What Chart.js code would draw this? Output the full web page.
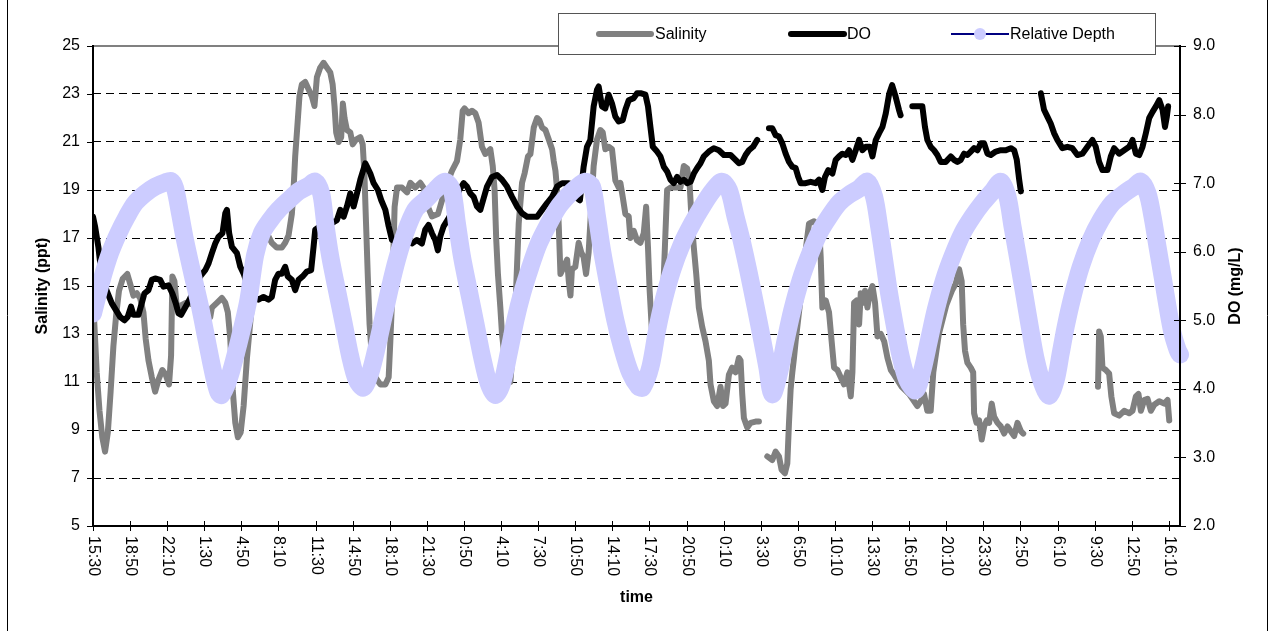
<!DOCTYPE html>
<html>
<head>
<meta charset="utf-8">
<title>Salinity, DO and relative depth</title>
<script src="https://cdn.jsdelivr.net/npm/chart.js@4.4.1/dist/chart.umd.min.js"></script>
<style>
  html, body { margin: 0; padding: 0; background: #fff; }
  #wrap { position: relative; width: 1273px; height: 631px; }
</style>
</head>
<body>
<div id="wrap"><canvas id="chart" width="1273" height="631"></canvas></div>
<script>
// Time axis: minutes elapsed since the 15:30 start, one label every 200 minutes.
const tickStepMinutes = 200;
const lastMinute = 5860;
const timeLabels = ['15:30','18:50','22:10','1:30','4:50','8:10','11:30','14:50','18:10','21:30',
  '0:50','4:10','7:30','10:50','14:10','17:30','20:50','0:10','3:30','6:50',
  '10:10','13:30','16:50','20:10','23:30','2:50','6:10','9:30','12:50','16:10'];

const salinityTicks = [5, 7, 9, 11, 13, 15, 17, 19, 21, 23, 25];
const doTicks = [2, 3, 4, 5, 6, 7, 8, 9];

// [minute, salinity ppt]; null marks a break in the record
const salinity = [
  [0,14.5],[10,13.0],[20,11.4],[35,9.8],[50,8.7],[65,8.1],[80,8.9],[95,10.6],[110,12.5],[125,13.8],
  [140,14.8],[160,15.3],[185,15.5],[200,15.1],[218,14.6],[236,14.7],[254,14.5],[272,13.9],[284,12.8],
  [299,11.9],[317,11.2],[335,10.6],[353,11.1],[374,11.5],[392,11.3],[410,10.9],[421,12.1],[428,15.4],
  [439,15.2],[452,14.1],[500,14.3],[560,14.2],[632,13.7],[641,14.1],[668,14.3],[695,14.5],[713,14.3],
  [727,13.9],[740,12.8],[753,10.7],[767,9.3],[781,8.7],[796,8.9],[812,10.0],[830,12.0],[848,13.5],
  [875,15.5],[901,17.5],[919,17.7],[937,17.2],[964,16.8],[991,16.6],[1018,16.6],[1036,16.8],[1054,17.1],
  [1072,18.0],[1081,19.0],[1090,20.4],[1103,21.8],[1113,22.9],[1126,23.4],[1144,23.5],[1162,23.2],
  [1180,22.9],[1194,22.5],[1207,23.7],[1225,24.1],[1243,24.3],[1261,24.1],[1279,23.9],[1292,23.4],
  [1302,22.5],[1311,21.4],[1324,21.0],[1338,21.2],[1347,22.6],[1356,22.0],[1369,21.5],[1387,21.4],
  [1400,20.9],[1418,21.1],[1441,21.2],[1454,20.9],[1463,19.7],[1472,17.6],[1481,15.5],[1491,13.4],
  [1504,12.0],[1522,11.2],[1549,10.9],[1576,10.9],[1594,11.2],[1603,12.7],[1612,14.4],[1626,18.3],
  [1639,19.1],[1666,19.1],[1693,18.9],[1711,19.3],[1737,19.1],[1764,19.3],[1782,19.1],[1800,18.4],
  [1827,17.9],[1860,18.0],[1890,18.8],[1915,19.4],[1935,19.8],[1962,20.2],[1980,21.1],[1993,22.3],
  [2003,22.4],[2025,22.2],[2043,22.3],[2061,22.2],[2079,21.8],[2097,20.8],[2115,20.5],[2142,20.7],
  [2155,20.0],[2165,19.0],[2174,16.9],[2183,15.5],[2196,14.1],[2205,13.0],[2225,11.6],[2250,11.0],
  [2265,12.5],[2277,14.1],[2295,17.6],[2313,19.3],[2327,19.7],[2345,20.4],[2358,20.5],[2376,21.6],
  [2394,22.0],[2407,21.9],[2421,21.6],[2439,21.5],[2457,21.1],[2475,20.7],[2484,20.2],[2493,19.8],
  [2502,19.0],[2511,17.5],[2520,15.5],[2538,15.8],[2556,16.1],[2565,15.2],[2574,14.6],[2582,15.7],
  [2600,15.8],[2618,16.8],[2632,16.4],[2645,16.2],[2658,15.5],[2672,16.4],[2686,18.3],[2699,20.0],
  [2717,21.1],[2735,21.5],[2748,21.4],[2762,20.7],[2780,20.8],[2798,20.7],[2816,19.4],[2834,19.1],
  [2843,19.3],[2856,18.7],[2870,18.0],[2888,17.9],[2897,17.0],[2915,17.3],[2933,16.9],[2951,16.8],
  [2969,17.2],[2982,18.3],[2992,16.6],[3001,14.8],[3014,13.0],[3030,12.2],[3050,12.5],[3070,14.0],
  [3085,17.0],[3095,19.0],[3113,19.1],[3140,19.1],[3167,19.1],[3185,20.0],[3203,19.9],[3216,19.3],
  [3226,17.9],[3239,16.6],[3252,15.5],[3266,14.1],[3284,13.3],[3302,12.7],[3320,11.9],[3329,10.9],
  [3347,10.2],[3365,10.0],[3383,10.8],[3396,10.0],[3410,10.1],[3428,11.3],[3446,11.6],[3464,11.4],
  [3482,12.0],[3491,11.9],[3500,10.5],[3509,9.5],[3527,9.1],[3545,9.3],[3572,9.35],[3590,9.35],
  [3612,null],
  [3635,7.9],[3662,7.75],[3680,8.1],[3698,7.9],[3712,7.35],[3730,7.2],[3743,7.6],[3752,9.3],
  [3761,10.7],[3770,11.4],[3779,12.0],[3788,12.7],[3815,14.5],[3842,16.5],[3860,17.6],[3887,17.7],
  [3914,17.5],[3923,16.2],[3932,14.1],[3950,14.4],[3968,13.9],[3982,12.7],[3995,11.6],[4013,11.5],
  [4031,11.2],[4049,10.9],[4067,11.4],[4085,10.4],[4094,11.4],[4103,14.3],[4117,14.4],[4130,13.4],
  [4139,14.7],[4152,14.3],[4162,14.8],[4175,14.1],[4188,14.7],[4202,15.0],[4216,14.3],[4229,12.9],
  [4247,13.0],[4265,12.7],[4283,12.0],[4301,11.5],[4319,11.3],[4360,10.8],[4400,10.5],[4444,10.0],
  [4462,10.2],[4480,10.5],[4498,9.8],[4516,9.8],[4530,11.4],[4560,13.0],[4600,14.2],[4630,14.8],
  [4651,15.1],[4669,15.7],[4683,15.2],[4691,13.4],[4701,12.3],[4714,11.8],[4732,11.6],[4745,11.4],
  [4750,9.7],[4763,9.3],[4777,9.4],[4791,8.6],[4804,9.15],[4818,9.4],[4831,9.3],[4845,10.1],
  [4858,9.55],[4876,9.3],[4894,9.15],[4912,8.85],[4930,9.15],[4948,8.95],[4966,8.75],[4984,9.3],
  [5002,8.95],[5015,8.85],
  [5200,null],
  [5418,10.8],[5424,13.1],[5433,12.9],[5442,11.6],[5460,11.5],[5478,11.35],[5490,10.4],[5505,9.7],
  [5532,9.6],[5559,9.8],[5586,9.7],[5604,9.8],[5622,10.4],[5636,10.5],[5649,9.8],[5667,10.25],
  [5685,10.3],[5703,9.8],[5721,10.05],[5748,10.2],[5775,10.1],[5793,10.25],[5802,9.4]
];

// [minute, dissolved oxygen mg/L]; null marks a break in the record
const dissolvedOxygen = [
  [0,6.51],[11,6.37],[29,6.07],[43,5.73],[65,5.49],[101,5.25],[128,5.13],[146,5.05],[169,5.0],
  [187,5.05],[205,5.2],[218,5.08],[245,5.08],[263,5.25],[277,5.39],[299,5.44],[317,5.59],[335,5.61],
  [362,5.59],[380,5.49],[407,5.51],[428,5.39],[446,5.25],[461,5.1],[475,5.08],[520,5.3],[578,5.64],
  [605,5.73],[623,5.83],[641,5.98],[659,6.12],[677,6.22],[698,6.27],[713,6.56],[722,6.61],[734,6.27],
  [749,6.07],[776,5.98],[794,5.78],[812,5.68],[840,5.45],[865,5.34],[892,5.3],[919,5.34],[946,5.3],
  [964,5.34],[982,5.59],[1000,5.68],[1018,5.68],[1036,5.78],[1050,5.64],[1072,5.59],[1090,5.44],
  [1108,5.59],[1130,5.64],[1153,5.71],[1176,5.73],[1189,6.07],[1198,6.32],[1240,6.4],[1290,6.42],
  [1315,6.46],[1333,6.61],[1351,6.51],[1369,6.66],[1387,6.85],[1405,6.66],[1423,6.85],[1441,7.05],
  [1468,7.29],[1477,7.24],[1495,7.14],[1513,7.0],[1536,6.9],[1554,6.75],[1576,6.61],[1594,6.37],
  [1612,6.17],[1660,6.12],[1700,6.15],[1719,6.12],[1746,6.17],[1773,6.12],[1791,6.32],[1809,6.39],
  [1827,6.27],[1845,6.17],[1859,6.02],[1872,6.22],[1890,6.37],[1920,6.5],[1950,6.7],[1975,6.9],
  [1998,7.0],[2016,6.95],[2034,6.85],[2052,6.8],[2070,6.66],[2088,6.61],[2106,6.78],[2124,6.95],
  [2151,7.09],[2178,7.12],[2205,7.05],[2232,6.95],[2259,6.8],[2286,6.66],[2313,6.56],[2340,6.51],
  [2367,6.51],[2394,6.51],[2421,6.61],[2448,6.71],[2475,6.8],[2502,6.95],[2529,7.0],[2565,7.0],
  [2582,6.98],[2600,6.8],[2625,6.75],[2645,7.24],[2663,7.53],[2681,7.63],[2699,8.12],[2717,8.36],
  [2726,8.41],[2744,8.12],[2762,8.09],[2780,8.29],[2798,8.16],[2816,7.97],[2834,7.9],[2856,7.92],
  [2870,8.07],[2888,8.21],[2915,8.24],[2933,8.31],[2956,8.31],[2978,8.29],[2992,8.12],[3005,7.82],
  [3018,7.53],[3041,7.46],[3059,7.39],[3077,7.24],[3095,7.17],[3113,7.05],[3131,7.0],[3149,7.09],
  [3167,7.02],[3185,7.05],[3203,7.0],[3221,7.02],[3239,7.14],[3257,7.22],[3275,7.29],[3293,7.39],
  [3320,7.46],[3347,7.51],[3374,7.48],[3401,7.41],[3437,7.41],[3464,7.34],[3482,7.29],[3500,7.31],
  [3518,7.41],[3536,7.48],[3558,7.53],[3581,7.63],
  [3612,null],
  [3644,7.8],[3662,7.8],[3680,7.7],[3698,7.68],[3716,7.58],[3734,7.43],[3752,7.31],[3770,7.24],
  [3788,7.22],[3802,7.09],[3815,7.0],[3842,7.0],[3869,7.02],[3896,7.0],[3914,7.05],[3932,6.9],
  [3946,7.09],[3964,7.19],[3986,7.14],[4004,7.34],[4022,7.39],[4040,7.43],[4058,7.41],[4076,7.48],
  [4094,7.34],[4112,7.48],[4130,7.63],[4148,7.48],[4166,7.53],[4188,7.53],[4202,7.39],[4220,7.63],
  [4238,7.73],[4256,7.82],[4274,8.02],[4292,8.3],[4308,8.43],[4327,8.26],[4345,8.07],[4354,7.99],
  [4385,null],
  [4417,8.12],[4471,8.12],[4485,7.82],[4498,7.63],[4516,7.53],[4534,7.48],[4552,7.41],[4570,7.31],
  [4597,7.31],[4624,7.39],[4642,7.34],[4660,7.31],[4678,7.34],[4696,7.43],[4714,7.41],[4732,7.46],
  [4750,7.51],[4768,7.48],[4786,7.58],[4804,7.58],[4822,7.43],[4840,7.41],[4867,7.46],[4894,7.48],
  [4921,7.48],[4948,7.51],[4966,7.48],[4980,7.34],[4993,7.05],[5002,6.88],
  [5050,null],
  [5110,8.31],[5127,8.07],[5145,7.97],[5163,7.87],[5181,7.73],[5199,7.63],[5226,7.51],[5253,7.53],
  [5280,7.51],[5307,7.41],[5334,7.43],[5361,7.53],[5388,7.63],[5406,7.53],[5424,7.31],[5442,7.19],
  [5469,7.19],[5487,7.39],[5505,7.51],[5532,7.43],[5559,7.48],[5586,7.53],[5604,7.63],[5622,7.43],
  [5640,7.41],[5658,7.53],[5676,7.73],[5694,7.95],[5712,8.04],[5730,8.12],[5748,8.21],[5766,8.07],
  [5779,7.82],[5789,7.97],[5796,8.12]
];

// [minute, relative depth] plotted against the right-hand scale
const relativeDepth = [
  [0,5.10],[47,5.59],[92,5.98],[137,6.27],[182,6.51],[227,6.71],[281,6.85],[335,6.95],[389,7.01],
  [421,7.03],[442,6.93],[469,6.56],[496,6.17],[536,5.68],[577,5.20],[613,4.71],[649,4.23],[676,3.95],
  [692,3.91],[730,4.13],[766,4.47],[802,4.86],[838,5.30],[874,5.95],[910,6.27],[955,6.46],[1000,6.61],
  [1054,6.75],[1108,6.88],[1162,6.96],[1198,7.02],[1230,6.85],[1252,6.41],[1279,5.93],[1315,5.44],
  [1351,4.96],[1387,4.47],[1422,4.13],[1458,4.02],[1494,4.23],[1530,4.61],[1566,5.05],[1602,5.49],
  [1638,5.88],[1683,6.27],[1737,6.61],[1791,6.75],[1845,6.90],[1899,7.02],[1935,6.90],[1962,6.41],
  [1989,5.93],[2025,5.44],[2061,4.96],[2097,4.47],[2133,4.08],[2169,3.91],[2205,4.08],[2241,4.52],
  [2277,5.00],[2313,5.39],[2358,5.78],[2403,6.12],[2457,6.41],[2511,6.66],[2565,6.83],[2600,6.92],
  [2654,7.02],[2690,6.95],[2717,6.51],[2744,6.02],[2780,5.49],[2816,5.00],[2852,4.61],[2897,4.23],
  [2942,4.03],[2963,4.02],[3005,4.32],[3041,4.86],[3077,5.30],[3122,5.73],[3176,6.12],[3230,6.41],
  [3284,6.66],[3338,6.88],[3390,7.02],[3428,6.90],[3464,6.51],[3496,6.17],[3536,5.68],[3572,5.20],
  [3608,4.71],[3635,4.32],[3662,3.92],[3698,4.23],[3734,4.71],[3770,5.15],[3815,5.59],[3860,5.93],
  [3914,6.27],[3968,6.51],[4022,6.71],[4076,6.83],[4130,6.92],[4175,7.02],[4211,6.80],[4238,6.37],
  [4265,5.88],[4292,5.39],[4320,4.96],[4352,4.50],[4390,4.13],[4435,3.98],[4471,4.27],[4507,4.71],
  [4543,5.15],[4588,5.59],[4633,5.93],[4687,6.27],[4741,6.51],[4795,6.71],[4849,6.88],[4894,7.02],
  [4930,6.80],[4957,6.37],[4989,5.88],[5020,5.39],[5050,4.91],[5083,4.42],[5118,4.08],[5154,3.90],
  [5190,4.13],[5217,4.52],[5244,4.91],[5280,5.34],[5325,5.78],[5379,6.17],[5433,6.46],[5496,6.71],
  [5559,6.85],[5613,6.95],[5649,7.02],[5685,6.85],[5712,6.51],[5739,6.07],[5766,5.64],[5793,5.20],
  [5820,4.81],[5847,4.57],[5860,4.50]
];

const FONT = '"Liberation Sans", Arial, Helvetica, sans-serif';
const toPoints = rows => rows.map(([x, y]) => ({ x, y }));

const SAL_COLOR = '#808080';
const DO_COLOR = '#000000';
const DEPTH_COLOR = '#CCCCFF';
const DEPTH_LEGEND_LINE = '#000080';

function strokeLine(ctx, x1, y1, x2, y2) {
  ctx.beginPath();
  ctx.moveTo(x1, y1);
  ctx.lineTo(x2, y2);
  ctx.stroke();
}

// Draws the side rules, axis lines, tick marks, time labels, axis titles and the legend box.
const chartDecorations = {
  id: 'chartDecorations',
  beforeDraw(chart) {
    const { ctx, width, height } = chart;
    ctx.save();
    ctx.fillStyle = '#ffffff';
    ctx.fillRect(0, 0, width, height);
    ctx.restore();
  },
  afterDraw(chart) {
    const { ctx, chartArea: a, scales } = chart;
    const xs = scales.x, ys = scales.y, yr = scales.y1;
    ctx.save();

    // plot area outline
    ctx.lineCap = 'butt';
    ctx.strokeStyle = '#808080';
    ctx.lineWidth = 2;
    strokeLine(ctx, a.left, a.top, a.right, a.top);
    ctx.strokeStyle = '#000';
    strokeLine(ctx, a.left, a.top - 1, a.left, a.bottom + 1);
    strokeLine(ctx, a.right, a.top - 1, a.right, a.bottom + 1);
    strokeLine(ctx, a.left - 1, a.bottom, a.right + 1, a.bottom);

    // tick marks
    ctx.lineWidth = 1;
    salinityTicks.forEach(v => {
      const y = Math.round(ys.getPixelForValue(v)) + 0.5;
      strokeLine(ctx, a.left - 6, y, a.left, y);
    });
    doTicks.forEach(v => {
      const y = Math.round(yr.getPixelForValue(v)) + 0.5;
      strokeLine(ctx, a.right - 6, y, a.right + 6, y);
    });

    // time labels, rotated to read downward
    ctx.fillStyle = '#000';
    ctx.font = '16px ' + FONT;
    timeLabels.forEach((label, i) => {
      const x = Math.round(xs.getPixelForValue(i * tickStepMinutes)) + 0.5;
      strokeLine(ctx, x, a.bottom - 5, x, a.bottom + 5);
      ctx.save();
      ctx.translate(x, a.bottom + 10);
      ctx.rotate(Math.PI / 2);
      ctx.textAlign = 'left';
      ctx.textBaseline = 'middle';
      ctx.fillText(label, 0, 0);
      ctx.restore();
    });

    // axis titles
    ctx.font = 'bold 16px ' + FONT;
    ctx.textAlign = 'center';
    ctx.textBaseline = 'middle';
    const midY = (a.top + a.bottom) / 2;
    ctx.save();
    ctx.translate(43, midY);
    ctx.rotate(-Math.PI / 2);
    ctx.fillText('Salinity (ppt)', 0, 0);
    ctx.restore();
    ctx.save();
    ctx.translate(1236, midY);
    ctx.rotate(-Math.PI / 2);
    ctx.fillText('DO (mg/L)', 0, 0);
    ctx.restore();
    ctx.fillText('time', (a.left + a.right) / 2, 598);

    // legend
    const box = { x: 558.5, y: 13.5, w: 597, h: 41 };
    ctx.fillStyle = '#fff';
    ctx.fillRect(box.x, box.y, box.w, box.h);
    ctx.strokeStyle = '#555';
    ctx.lineWidth = 1;
    ctx.strokeRect(box.x, box.y, box.w, box.h);
    const ly = box.y + box.h / 2;
    const items = chart.data.datasets;
    ctx.font = '16px ' + FONT;
    ctx.textAlign = 'left';
    ctx.textBaseline = 'middle';
    ctx.lineCap = 'round';

    ctx.strokeStyle = SAL_COLOR; ctx.lineWidth = 6;
    strokeLine(ctx, 599, ly, 651, ly);
    ctx.fillStyle = '#000';
    ctx.fillText(items[0].label, 655, ly + 1);

    ctx.strokeStyle = DO_COLOR; ctx.lineWidth = 6;
    strokeLine(ctx, 791, ly, 844, ly);
    ctx.fillText(items[1].label, 847, ly + 1);

    ctx.lineCap = 'butt';
    ctx.strokeStyle = DEPTH_LEGEND_LINE; ctx.lineWidth = 2;
    strokeLine(ctx, 951, ly, 1009, ly);
    ctx.fillStyle = DEPTH_COLOR;
    ctx.beginPath();
    ctx.arc(980, ly, 6, 0, Math.PI * 2);
    ctx.fill();
    ctx.fillStyle = '#000';
    ctx.fillText(items[2].label, 1010, ly + 1);

    // side rules of the chart panel
    ctx.strokeStyle = '#000';
    ctx.lineWidth = 1;
    strokeLine(ctx, 7.5, 0, 7.5, chart.height);
    strokeLine(ctx, 1267.5, 0, 1267.5, chart.height);

    ctx.restore();
  }
};

new Chart(document.getElementById('chart'), {
  type: 'line',
  data: {
    datasets: [
      {
        label: 'Salinity', data: toPoints(salinity), yAxisID: 'y',
        borderColor: SAL_COLOR, borderWidth: 6, pointRadius: 0, spanGaps: false,
        borderJoinStyle: 'round', borderCapStyle: 'round', tension: 0, order: 3
      },
      {
        label: 'DO', data: toPoints(dissolvedOxygen), yAxisID: 'y1',
        borderColor: DO_COLOR, borderWidth: 6, pointRadius: 0, spanGaps: false,
        borderJoinStyle: 'round', borderCapStyle: 'round', tension: 0, order: 2
      },
      {
        label: 'Relative Depth', data: toPoints(relativeDepth), yAxisID: 'y1',
        borderColor: DEPTH_COLOR, borderWidth: 18, pointRadius: 0,
        borderJoinStyle: 'round', borderCapStyle: 'round', tension: 0.3, order: 1,
        clip: { left: 0, top: 20, right: 12, bottom: 20 }
      }
    ]
  },
  options: {
    responsive: false,
    animation: false,
    devicePixelRatio: 1,
    layout: { padding: { top: 46, left: 0, right: 0, bottom: 0 } },
    plugins: { legend: { display: false }, tooltip: { enabled: false } },
    scales: {
      x: {
        type: 'linear', min: 0, max: lastMinute,
        grid: { display: false }, border: { display: false },
        ticks: { display: false, stepSize: tickStepMinutes },
        afterFit(scale) { scale.height = 105; }
      },
      y: {
        position: 'left', min: 5, max: 25,
        afterBuildTicks(scale) { scale.ticks = salinityTicks.map(v => ({ value: v })); },
        ticks: { color: '#000', padding: 13, font: { family: FONT, size: 16 } },
        grid: {
          drawTicks: false, lineWidth: 1,
          color: c => (c.tick && (c.tick.value === 5 || c.tick.value === 25)) ? 'rgba(0,0,0,0)' : '#000'
        },
        border: { display: false, dash: [8, 5] },
        afterFit(scale) { scale.width = 93; }
      },
      y1: {
        position: 'right', min: 2, max: 9,
        afterBuildTicks(scale) { scale.ticks = doTicks.map(v => ({ value: v })); },
        ticks: { color: '#000', padding: 13, font: { family: FONT, size: 16 }, callback: v => Number(v).toFixed(1) },
        grid: { display: false, drawTicks: false },
        border: { display: false },
        afterFit(scale) { scale.width = 93; }
      }
    }
  },
  plugins: [chartDecorations]
});
</script>
</body>
</html>
